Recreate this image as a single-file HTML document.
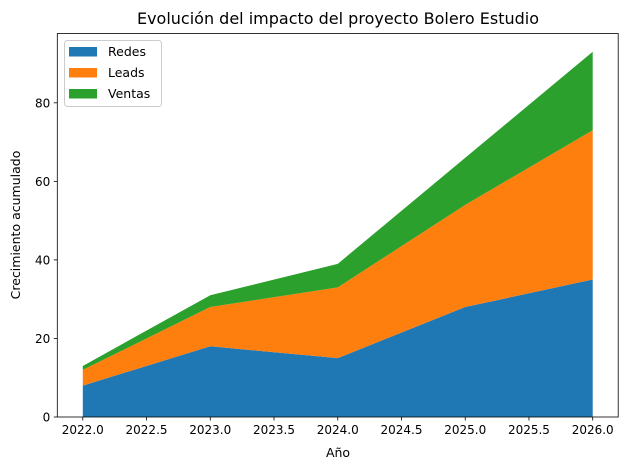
<!DOCTYPE html>
<html><head><meta charset="utf-8"><style>
body{margin:0;background:#fff;font-family:"Liberation Sans","DejaVu Sans",sans-serif}
</style></head><body>
<svg id="chart" width="628" height="470" xmlns="http://www.w3.org/2000/svg" font-family="DejaVu Sans, Liberation Sans, sans-serif">
<text x="338" y="24" text-anchor="middle" font-size="16">Evolución del impacto del proyecto Bolero Estudio</text>
<g id="areas"></g><g id="axes"></g>
<text x="338" y="457" text-anchor="middle" font-size="12.5">Año</text>
<text transform="translate(20,225) rotate(-90)" text-anchor="middle" font-size="12.5">Crecimiento acumulado</text>
</svg>
<script>
const years=[2022,2023,2024,2025,2026];
const redes=[8,18,15,28,35];
const leads=[4,10,18,26,38];
const ventas=[1,3,6,12,20];
const seriesNames=["Redes","Leads","Ventas"];
const colors=["#1f77b4","#ff7f0e","#2ca02c"];
const xTicks=[2022.0,2022.5,2023.0,2023.5,2024.0,2024.5,2025.0,2025.5,2026.0];
const yTicks=[0,20,40,60,80];
const L=57.3,R=618.2,T=33.5,B=417;
const series=[redes,leads,ventas];
const totals=years.map((_,i)=>series.reduce((s,a)=>s+a[i],0));
const ymax=Math.max(...totals)*1.05;
const x0=years[0]-(years[years.length-1]-years[0])*0.05, x1=years[years.length-1]+(years[years.length-1]-years[0])*0.05;
const sx=v=>L+(v-x0)/(x1-x0)*(R-L);
const sy=v=>B-v/ymax*(B-T);
const NS="http://www.w3.org/2000/svg";
const areas=document.getElementById('areas'),axes=document.getElementById('axes');
let base=years.map(()=>0);
series.forEach((s,k)=>{
  const top=base.map((b,i)=>b+s[i]);
  let pts=years.map((y,i)=>sx(y)+','+sy(top[i]));
  for(let i=years.length-1;i>=0;i--)pts.push(sx(years[i])+','+sy(base[i]));
  const p=document.createElementNS(NS,'polygon');
  p.setAttribute('points',pts.join(' '));p.setAttribute('fill',colors[k]);
  
  
  areas.appendChild(p);base=top;
});
function el(tag,attrs,parent,txt){const e=document.createElementNS(NS,tag);for(const a in attrs)e.setAttribute(a,attrs[a]);if(txt!=null)e.textContent=txt;parent.appendChild(e);return e;}
const frame=el('rect',{x:L,y:T,width:R-L,height:B-T,fill:'none',stroke:'#000','stroke-width':0.8},axes);


xTicks.forEach(v=>{
  el('line',{x1:sx(v),x2:sx(v),y1:B,y2:B+3.5,stroke:'#000','stroke-width':0.8},axes);
  const t=el('text',{x:sx(v),y:B+17,'text-anchor':'middle','font-size':12},axes,v.toFixed(1));
  
  
});
yTicks.forEach(v=>{
  el('line',{x1:L-3.5,x2:L,y1:sy(v),y2:sy(v),stroke:'#000','stroke-width':0.8},axes);
  const t=el('text',{x:L-7,y:sy(v)+4.5,'text-anchor':'end','font-size':12},axes,String(v));
  
  
});
const lg=el('g',{},axes);


el('rect',{x:64.5,y:40.5,width:97,height:66,rx:3,fill:'#fff','fill-opacity':0.8,stroke:'#ccc'},lg);
seriesNames.forEach((n,k)=>{
  const y=51.5+k*21;
  el('rect',{x:69,y:y-4.5,width:28,height:9.5,fill:colors[k]},lg);
  const t=el('text',{x:108,y:y+4.5,'font-size':12.5},lg,n);
  
  
});
</script>
</body></html>
